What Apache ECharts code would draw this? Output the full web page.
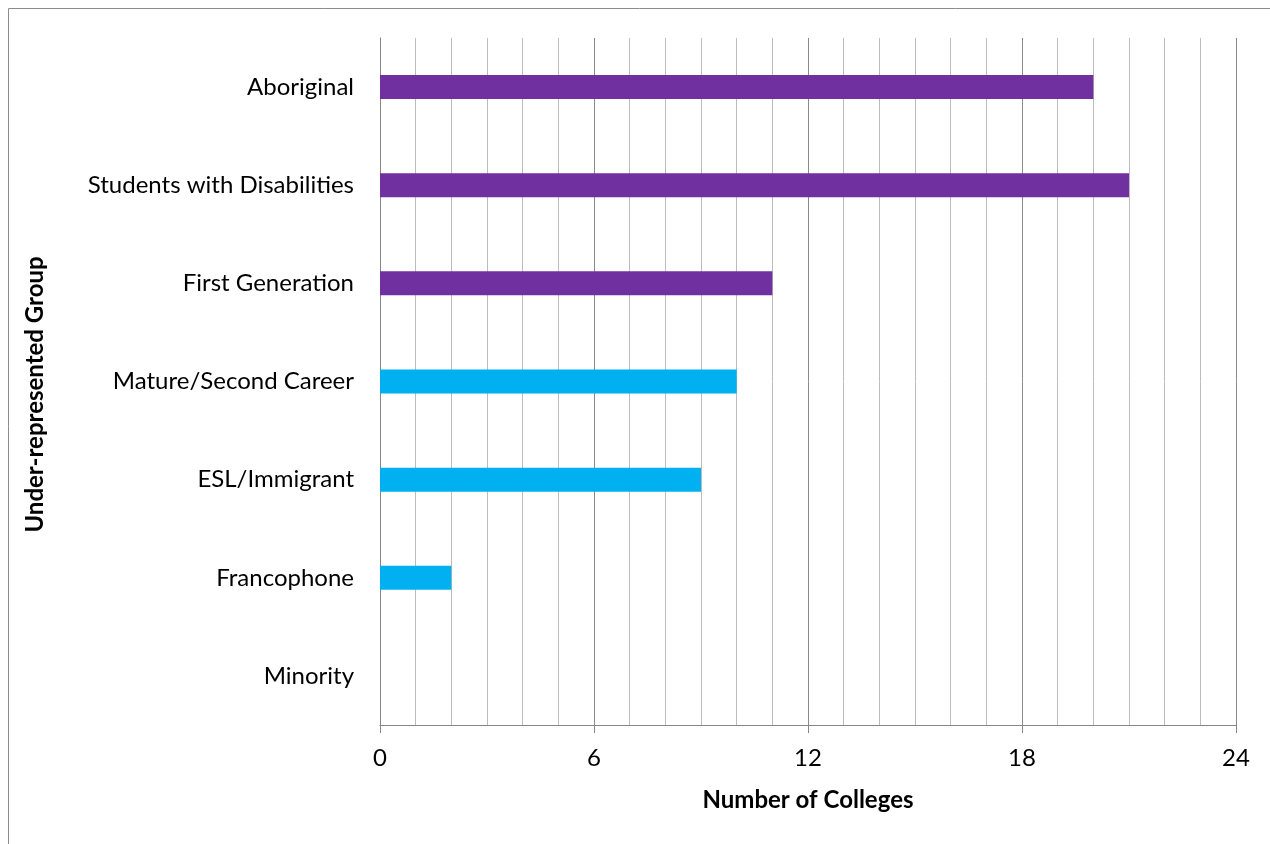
<!DOCTYPE html>
<html>
<head>
<meta charset="utf-8">
<title>Under-represented Group</title>
<script src="https://cdn.jsdelivr.net/npm/echarts@6/dist/echarts.min.js"></script>
<style>
  html, body { margin: 0; padding: 0; background: #fff; }
  #chart { width: 1270px; height: 844px; }
</style>
</head>
<body>
<div id="chart"></div>
<script>
// data
var groups = ['Aboriginal', 'Students with Disabilities', 'First Generation',
              'Mature/Second Career', 'ESL/Immigrant', 'Francophone', 'Minority'];
var colleges = [20, 21, 11, 10, 9, 2, 0];
var barColors = ['#7030A0', '#7030A0', '#7030A0', '#00B0F0', '#00B0F0', '#00B0F0', '#00B0F0'];

var font = 'Lato, "Open Sans", sans-serif';

var chart = echarts.init(document.getElementById('chart'));
chart.setOption({
  animation: false,
  grid: { left: 380, right: 34, top: 38, bottom: 119, containLabel: false },
  graphic: [{
    type: 'rect',
    shape: { x: 8.5, y: 8.5, width: 1400, height: 1000 },
    style: { fill: 'none', stroke: '#8c8c8c', lineWidth: 1 },
    silent: true
  }],
  xAxis: {
    type: 'value',
    min: 0, max: 24, interval: 6,
    name: 'Number of Colleges',
    nameLocation: 'middle',
    nameGap: 63,
    nameTextStyle: { fontFamily: font, fontWeight: 'bold', fontSize: 24, color: '#000' },
    axisLine: { show: true, lineStyle: { color: '#868686', width: 1 } },
    axisTick: { show: true, length: 8, lineStyle: { color: '#868686' } },
    axisLabel: { fontFamily: font, fontSize: 24, color: '#000', margin: 21 },
    splitLine: { show: true, lineStyle: { color: '#8a8a8a', width: 1 } },
    minorTick: { show: false, splitNumber: 6 },
    minorSplitLine: { show: true, lineStyle: { color: '#bcbcbc', width: 1 } }
  },
  yAxis: {
    type: 'category',
    data: groups,
    inverse: true,
    name: 'Under-represented Group',
    nameLocation: 'middle',
    nameGap: 333,
    nameRotate: 90,
    nameTextStyle: {
      fontFamily: font, fontWeight: 'bold', fontSize: 24, color: '#000',
      padding: [0, 0, 0, 0]
    },
    axisLine: { show: true, lineStyle: { color: '#868686', width: 1 } },
    axisTick: { show: false },
    axisLabel: { fontFamily: font, fontSize: 24, color: '#000', margin: 26 },
    splitLine: { show: false }
  },
  series: [{
    type: 'bar',
    barWidth: 24,
    data: colleges.map(function (v, i) {
      return { value: v, itemStyle: { color: barColors[i] } };
    })
  }]
});
// Excel sits the vertical title a little lower than the plot centre
chart.setOption({ yAxis: { nameTextStyle: { padding: [0, 26, 0, 0] } } });
</script>
</body>
</html>
